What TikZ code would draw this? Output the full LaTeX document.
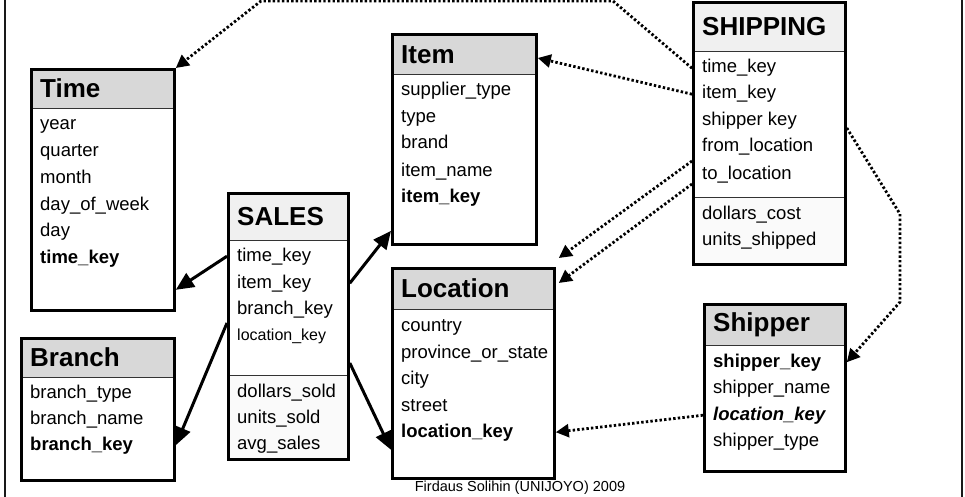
\documentclass[tikz,border=0pt]{standalone}
\usepackage{fontspec}
\setmainfont{Liberation Sans}
\usetikzlibrary{arrows.meta}
\definecolor{hdgray}{RGB}{216,216,216}
\definecolor{hdlight}{RGB}{240,240,240}
\definecolor{ftlight}{RGB}{250,250,250}

\begin{document}
\begin{tikzpicture}[x=1pt,y=-1pt,
    tbl/.style={draw=black, line width=2.8pt, anchor=north west, inner sep=0pt},
    head/.style={fill=hdgray, draw=black!80, line width=1.4pt, anchor=north west, inner sep=0pt},
    facthead/.style={head, fill=hdlight},
    factfoot/.style={head, fill=ftlight},
    tbltitle/.style={anchor=west, inner xsep=10pt, font=\fontsize{26}{30}\selectfont\bfseries},
    field/.style={anchor=base west, inner xsep=10pt, font=\fontsize{18.5}{22}\selectfont},
    keyfield/.style={field, font=\fontsize{18.5}{22}\selectfont\bfseries},
    fk/.style={line width=3pt, -{Triangle[length=18pt,width=16pt]}},
    dotfk/.style={line width=2.8pt, dash pattern=on 2.4pt off 2.2pt, -{Triangle[length=13pt,width=13pt]}}]
       \useasboundingbox (0,0) rectangle (965,497);
       \draw[black!90, line width=2.5pt] (5,0) -- (5,497);
       \draw[black!90, line width=2.5pt] (962,0) -- (962,497);

       \node[head, minimum width=143, minimum height=40] (timehead) at (30,68) {};
       \node[tbl, minimum width=143, minimum height=241] (time) at (30,68) {};
       \node[tbltitle] at (timehead.west) {Time};
       \node[field] (t1) at (30,130) {year};
       \node[field] (t2) at (30,157) {quarter};
       \node[field] (t3) at (30,183) {month};
       \node[field] (t4) at (30,210) {day\_of\_week};
       \node[field] (t5) at (30,236) {day};
       \node[keyfield] (t6) at (30,263) {time\_key};

       \node[head, minimum width=153, minimum height=40] (branchhead) at (20,337) {};
       \node[tbl, minimum width=153, minimum height=142] (branch) at (20,337) {};
       \node[tbltitle] at (branchhead.west) {Branch};
       \node[field] (b1) at (20,398) {branch\_type};
       \node[field] (b2) at (20,424) {branch\_name};
       \node[keyfield] (b3) at (20,450) {branch\_key};

       \node[facthead, minimum width=120, minimum height=48] (saleshead) at (227,192) {};
       \node[factfoot, minimum width=120, minimum height=83] (salesfoot) at (227,375) {};
       \node[tbl, minimum width=120, minimum height=266] (sales) at (227,192) {};
       \node[tbltitle] at (saleshead.west) {SALES};
       \node[field] (s1) at (227,261) {time\_key};
       \node[field] (s2) at (227,288) {item\_key};
       \node[field] (s3) at (227,314) {branch\_key};
       \node[field, font=\fontsize{16}{19}\selectfont] (s4) at (227,340) {location\_key};
       \node[field] (s5) at (227,397) {dollars\_sold};
       \node[field] (s6) at (227,423) {units\_sold};
       \node[field] (s7) at (227,449) {avg\_sales};

       \node[head, minimum width=144, minimum height=41] (itemhead) at (391,33) {};
       \node[tbl, minimum width=144, minimum height=210] (item) at (391,33) {};
       \node[tbltitle] at (itemhead.west) {Item};
       \node[field] (i1) at (391,96) {supplier\_type};
       \node[field] (i2) at (391,123) {type};
       \node[field] (i3) at (391,149) {brand};
       \node[field] (i4) at (391,176) {item\_name};
       \node[keyfield] (i5) at (391,202) {item\_key};

       \node[head, minimum width=162, minimum height=42] (locationhead) at (391,267) {};
       \node[tbl, minimum width=162, minimum height=210] (location) at (391,267) {};
       \node[tbltitle] at (locationhead.west) {Location};
       \node[field] (l1) at (391,331) {country};
       \node[field] (l2) at (391,358) {province\_or\_state};
       \node[field] (l3) at (391,384) {city};
       \node[field] (l4) at (391,411) {street};
       \node[keyfield] (l5) at (391,437) {location\_key};

       \node[facthead, minimum width=152, minimum height=50] (shippinghead) at (692,1) {};
       \node[factfoot, minimum width=152, minimum height=66] (shippingfoot) at (692,197) {};
       \node[tbl, minimum width=152, minimum height=262] (shipping) at (692,1) {};
       \node[tbltitle] at (shippinghead.west) {SHIPPING};
       \node[field] (sh1) at (692,73) {time\_key};
       \node[field] (sh2) at (692,99) {item\_key};
       \node[field] (sh3) at (692,126) {shipper key};
       \node[field] (sh4) at (692,152) {from\_location};
       \node[field] (sh5) at (692,179) {to\_location};
       \node[field] (sh6) at (692,219) {dollars\_cost};
       \node[field] (sh7) at (692,245) {units\_shipped};

       \node[head, minimum width=141, minimum height=42] (shipperhead) at (703,303) {};
       \node[tbl, minimum width=141, minimum height=167] (shipper) at (703,303) {};
       \node[tbltitle] at (shipperhead.west) {Shipper};
       \node[keyfield] (p1) at (703,367) {shipper\_key};
       \node[field] (p2) at (703,393) {shipper\_name};
       \node[keyfield, font=\fontsize{18.5}{22}\selectfont\bfseries\itshape] (p3) at (703,420) {location\_key};
       \node[field] (p4) at (703,446) {shipper\_type};

       \draw[fk] (sales.west |- s1) -- ([yshift=22pt]time.south east);
       \draw[fk] ([yshift=-131pt]sales.north west) -- (branch.east |- b3);
       \draw[fk] (sales.east |- s2) -- ([yshift=15pt]item.south west);
       \draw[fk] ([yshift=-171pt]sales.north east) -- ([yshift=30pt]location.south west);

       \coordinate (toprt) at (613,1);
       \coordinate (toplt) at (261,1);
       \coordinate (bendhi) at (900,214);
       \coordinate (bendlo) at (900,302);
       \draw[dotfk] (shipping.west |- sh1) -- (toprt) -- (toplt) -- (time.north east);
       \draw[dotfk] (shipping.west |- sh2) -- ([yshift=-25pt]item.north east);
       \draw[dotfk] ([yshift=-160pt]shipping.north west) -- ([shift={(3pt,9pt)}]location.north east);
       \draw[dotfk] ([yshift=-183pt]shipping.north west) -- ([shift={(3pt,-16pt)}]location.north east);
       \draw[dotfk] ([yshift=-127pt]shipping.north east) -- (bendhi) -- (bendlo) -- (shipper.east |- p1);
       \draw[dotfk] (shipper.west |- p3) -- (location.east |- l5);

       \node[font=\fontsize{14.5}{17}\selectfont] (credit) at (520,488) {Firdaus Solihin (UNIJOYO) 2009};
\end{tikzpicture}
\end{document}
